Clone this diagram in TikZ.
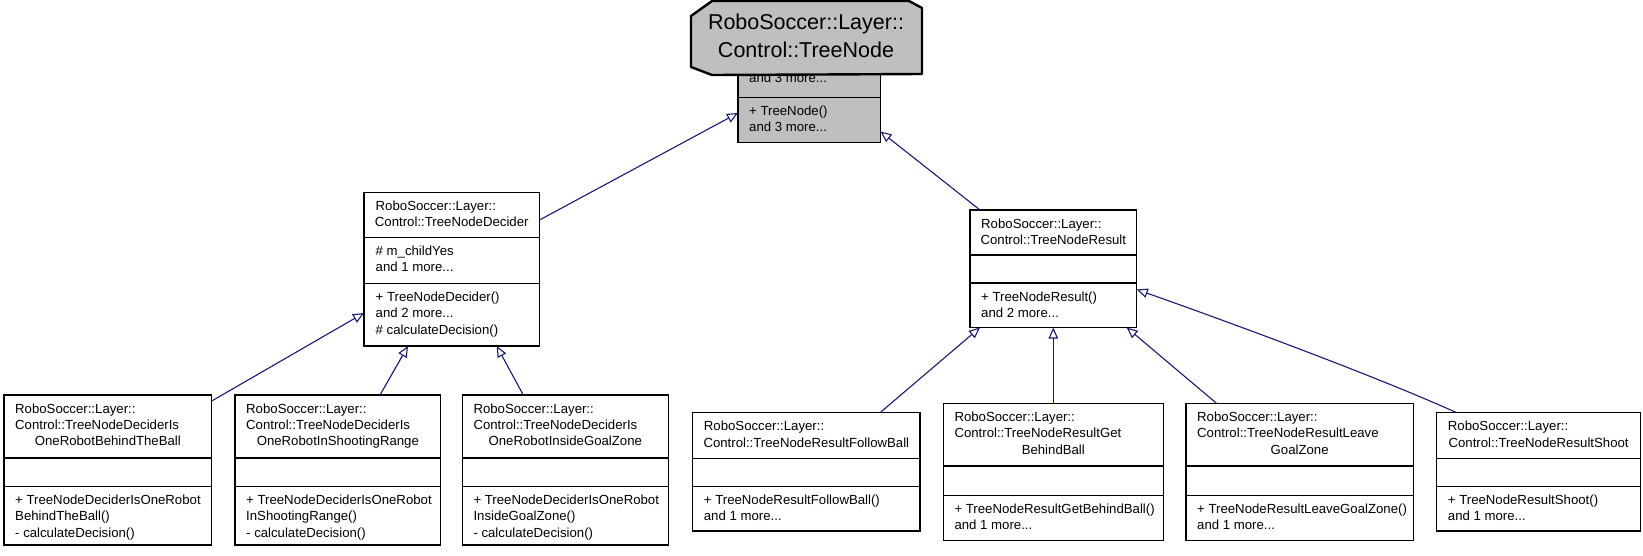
\documentclass[tikz,border=0pt]{standalone}
\usepackage{fontspec}
\setmainfont{Liberation Sans}
\usetikzlibrary{arrows.meta,fit,calc}
\definecolor{mblue}{HTML}{191970}
\definecolor{nodegray}{HTML}{BFBFBF}
\newcounter{txtn}
\newcommand\umlclass[8]{% name, x1, x2, y0, y1, y2, y3, fill
  \coordinate (#1-nw) at (#2,#4);
  \coordinate (#1-se) at (#3,#7);
  \node[clsbox, fill=#8, fit=(#1-nw)(#1-se)] (#1) {};
  \draw[divider] (#2,#5) -- (#3,#5);
  \draw[divider] (#2,#6) -- (#3,#6);
}
\newcommand\cltext[3]{\stepcounter{txtn}\node[ltxt] (txt\arabic{txtn}) at (#1,#2) {#3};}
\newcommand\cctext[3]{\stepcounter{txtn}\node[ctxt] (txt\arabic{txtn}) at (#1,#2) {#3};}
\tikzset{
  clsbox/.style={draw=black, line width=1.2pt, inner sep=0pt, outer sep=0pt},
  divider/.style={draw=black, line width=1.2pt},
  ltxt/.style={anchor=base west, inner sep=0pt, font=\fontsize{13.2}{15}\selectfont},
  ctxt/.style={ltxt, anchor=base},
  bigtxt/.style={anchor=base, inner sep=0pt, font=\fontsize{21.5}{25}\selectfont},
  inherit/.style={draw=mblue, line width=1.1pt, -{Triangle[length=11pt,width=9.5pt,fill=white]}},
}
\begin{document}
\begin{tikzpicture}[x=1pt,y=-1pt]
\useasboundingbox (0,0) rectangle (1643,555);
\fill[white] (0,0) rectangle (1643,555);

% ---------- TreeNode (highlighted) ----------
\umlclass{tn}{738}{880.5}{8}{53}{97.5}{142.5}{nodegray}
\cltext{749}{82}{and 3 more...}
\cltext{749}{115.5}{+ TreeNode()}
\cltext{749}{131.8}{and 3 more...}

% ---------- TreeNodeDecider ----------
\umlclass{dec}{364}{539.5}{192.5}{237.5}{283.5}{346}{white}
\cltext{375.5}{210.5}{RoboSoccer::Layer::}
\cctext{451.75}{226.8}{Control::TreeNodeDecider}
\cltext{375.5}{255.5}{\# m\_childYes}
\cltext{375.5}{271.8}{and 1 more...}
\cltext{375.5}{301.5}{+ TreeNodeDecider()}
\cltext{375.5}{317.8}{and 2 more...}
\cltext{375.5}{334.1}{\# calculateDecision()}

% ---------- TreeNodeResult ----------
\umlclass{res}{970}{1136.7}{210}{255}{283}{327.5}{white}
\cltext{981}{228}{RoboSoccer::Layer::}
\cctext{1053.35}{244.3}{Control::TreeNodeResult}
\cltext{981}{301}{+ TreeNodeResult()}
\cltext{981}{317.3}{and 2 more...}

% ---------- Decider children ----------
\umlclass{b1}{4}{211.7}{395}{458}{486.5}{545}{white}
\cltext{15}{413}{RoboSoccer::Layer::}
\cltext{15}{429.3}{Control::TreeNodeDeciderIs}
\cctext{107.85}{445.6}{OneRobotBehindTheBall}
\cltext{15}{504.5}{+ TreeNodeDeciderIsOneRobot}
\cltext{15}{520.8}{BehindTheBall()}
\cltext{15}{537.1}{- calculateDecision()}

\umlclass{b2}{235}{440.7}{395}{458}{486.5}{545}{white}
\cltext{246}{413}{RoboSoccer::Layer::}
\cltext{246}{429.3}{Control::TreeNodeDeciderIs}
\cctext{337.85}{445.6}{OneRobotInShootingRange}
\cltext{246}{504.5}{+ TreeNodeDeciderIsOneRobot}
\cltext{246}{520.8}{InShootingRange()}
\cltext{246}{537.1}{- calculateDecision()}

\umlclass{b3}{462.3}{668.3}{395}{458}{486.5}{545}{white}
\cltext{473.3}{413}{RoboSoccer::Layer::}
\cltext{473.3}{429.3}{Control::TreeNodeDeciderIs}
\cctext{565.3}{445.6}{OneRobotInsideGoalZone}
\cltext{473.3}{504.5}{+ TreeNodeDeciderIsOneRobot}
\cltext{473.3}{520.8}{InsideGoalZone()}
\cltext{473.3}{537.1}{- calculateDecision()}

% ---------- Result children ----------
\umlclass{r1}{692.7}{920}{412.7}{458.3}{486.5}{531}{white}
\cltext{703.7}{430.7}{RoboSoccer::Layer::}
\cctext{806.35}{447}{Control::TreeNodeResultFollowBall}
\cltext{703.7}{504.5}{+ TreeNodeResultFollowBall()}
\cltext{703.7}{520.8}{and 1 more...}

\umlclass{r2}{943.3}{1163.3}{403.5}{466}{495.5}{540.5}{white}
\cltext{954.3}{421.5}{RoboSoccer::Layer::}
\cltext{954.3}{437.8}{Control::TreeNodeResultGet}
\cctext{1053.3}{454.1}{BehindBall}
\cltext{954.3}{513.5}{+ TreeNodeResultGetBehindBall()}
\cltext{954.3}{529.8}{and 1 more...}

\umlclass{r3}{1186}{1413.3}{403.5}{466}{495.5}{540.5}{white}
\cltext{1197}{421.5}{RoboSoccer::Layer::}
\cltext{1197}{437.8}{Control::TreeNodeResultLeave}
\cctext{1299.65}{454.1}{GoalZone}
\cltext{1197}{513.5}{+ TreeNodeResultLeaveGoalZone()}
\cltext{1197}{529.8}{and 1 more...}

\umlclass{r4}{1436.7}{1640.5}{412.7}{458.3}{486.5}{531}{white}
\cltext{1447.7}{430.7}{RoboSoccer::Layer::}
\cctext{1538.6}{447}{Control::TreeNodeResultShoot}
\cltext{1447.7}{504.5}{+ TreeNodeResultShoot()}
\cltext{1447.7}{520.8}{and 1 more...}

% ---------- inheritance connectors ----------
\draw[inherit] ($(dec.north east)+(0,27.5)$) -- ($(tn.south west)+(0,-29.5)$);
\draw[inherit] ($(res.north west)+(10,0)$) -- ($(tn.south east)+(0,-11)$);
\draw[inherit] ($(b1.north east)+(0,6)$) -- ($(dec.south west)+(0,-33)$);
\draw[inherit] ($(b2.north west)+(145,0)$) -- ($(dec.south west)+(44,0)$);
\draw[inherit] ($(b3.north west)+(61,0)$) -- ($(dec.south west)+(132.7,0)$);
\draw[inherit] ($(r1.north west)+(187.3,0)$) -- ($(res.south west)+(10,0)$);
\draw[inherit] ($(r2.north west)+(110,0)$) -- ($(res.south west)+(83.3,0)$);
\draw[inherit] ($(r3.north west)+(30.7,0)$) -- ($(res.south west)+(156.7,0)$);
\draw[inherit] ($(r4.north west)+(20,0)$) .. controls (1380,378) and (1240,326) .. ($(res.south east)+(0,-38)$);

% ---------- enlarged title overlay ----------
\filldraw[fill=nodegray, draw=black, line width=2.4pt, line join=round]
  (691,16) -- (712,1) -- (909,1) -- (922,8) -- (922,74) -- (712,75) -- (691,67) -- cycle;
\node[bigtxt] (tnl1) at (806,29) {RoboSoccer::Layer::};
\node[bigtxt] (tnl2) at (806,57) {Control::TreeNode};
\end{tikzpicture}
\end{document}
